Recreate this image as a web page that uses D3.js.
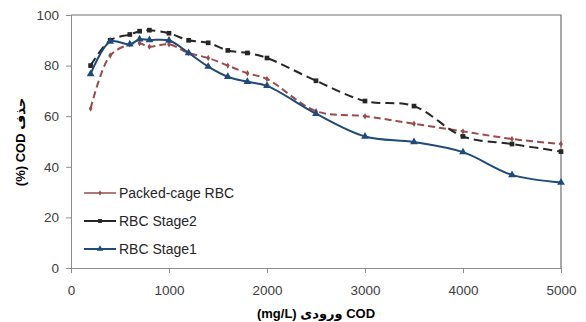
<!DOCTYPE html>
<html>
<head>
<meta charset="utf-8">
<script src="https://cdn.jsdelivr.net/npm/d3@7"></script>
<style>
  body { margin: 0; background: #fff; }
  text { font-family: "Liberation Sans", "DejaVu Sans", sans-serif; }
</style>
</head>
<body>
<svg id="chart"></svg>
<script>
// influent COD (mg/L)
const codIn = [200, 400, 600, 700, 800, 1000, 1200, 1400, 1600, 1800, 2000, 2500, 3000, 3500, 4000, 4500, 5000]

// removal %
const packedCage = [63, 84, 88.4, 88.8, 87.5, 88.4, 85, 83, 80, 77, 74.7, 62, 60, 57, 54, 51, 49]
const stage2 = [80, 90, 92.3, 93.6, 94, 92.8, 90, 89, 86, 85, 83, 74, 66, 64, 52, 49, 46]
const stage1 = [76.7, 89.5, 88.4, 90.4, 90.1, 89.9, 85, 79.6, 75.6, 73.6, 72, 61, 52, 49.8, 45.8, 36.8, 33.8]

const xTicks = [0, 1000, 2000, 3000, 4000, 5000]
const yTicks = [0, 20, 40, 60, 80, 100]

const seriesNames = ['Packed-cage RBC', 'RBC Stage2', 'RBC Stage1']

let width = 586,
height = 322

let svg = d3.select('#chart')
.attr('width', width)
.attr('height', height)

let x = d3.scaleLinear().domain([0, 5000]).range([71, 561])
let y = d3.scaleLinear().domain([0, 100]).range([268, 15])

// plot border (top + right)
svg.append('path')
.attr('d', `M${x(0)},${y(100)}H${x(5000)}V${y(0)}`)
.attr('fill', 'none')
.attr('stroke', '#707070')
.attr('stroke-width', 1.2)

// y axis
let yAxis = svg.append('g')
.attr('transform', `translate(${x(0)},0)`)
.call(d3.axisLeft(y).tickValues(yTicks).tickSize(5).tickPadding(7).tickFormat(d3.format('d')))
yAxis.select('.domain').attr('stroke', '#8c8c8c')
yAxis.selectAll('line').attr('stroke', '#8c8c8c')
yAxis.selectAll('text').attr('font-size', 13.5).attr('fill', '#404040')
.attr('font-family', '"Liberation Sans", sans-serif')

// x axis
let xAxis = svg.append('g')
.attr('transform', `translate(0,${y(0)})`)
.call(d3.axisBottom(x).tickValues(xTicks).tickSize(5).tickPadding(12).tickFormat(d3.format('d')))
xAxis.select('.domain').attr('stroke', '#8c8c8c')
xAxis.selectAll('line').attr('stroke', '#8c8c8c')
xAxis.selectAll('text').attr('font-size', 13.5).attr('fill', '#404040')
.attr('font-family', '"Liberation Sans", sans-serif')

// axis titles
svg.append('text')
.attr('x', 316).attr('y', 318)
.attr('text-anchor', 'middle')
.attr('font-size', 13).attr('font-weight', 'bold')
.text('(mg/L) ورودی COD')

svg.append('text')
.attr('transform', 'translate(25,142) rotate(-90)')
.attr('text-anchor', 'middle')
.attr('font-size', 13).attr('font-weight', 'bold')
.text('(%) COD حذف')

let styles = [
    {data: packedCage, color: '#9c4a4a', dash: '7,4', marker: 'diamond', width: 2},
    {data: stage2, color: '#262626', dash: '9,5', marker: 'square', width: 2},
    {data: stage1, color: '#1f4a7c', dash: null, marker: 'triangle', width: 2}
]

let symbolOf = m => m === 'square' ? d3.symbolSquare : m === 'triangle' ? d3.symbolTriangle : d3.symbolDiamond
let sizeOf = m => m === 'square' ? 22 : m === 'triangle' ? 26 : 12

let line = d3.line()
.x((d, i) => x(codIn[i]))
.y(d => y(d))
.curve(d3.curveCatmullRom.alpha(0.5))

styles.forEach(s => {
    svg.append('path')
    .datum(s.data)
    .attr('d', line)
    .attr('fill', 'none')
    .attr('stroke', s.color)
    .attr('stroke-width', s.width)
    .attr('stroke-dasharray', s.dash)

    svg.selectAll(null)
    .data(s.data)
    .enter().append('path')
    .attr('transform', (d, i) => `translate(${x(codIn[i])},${y(d)})`)
    .attr('d', d3.symbol().type(symbolOf(s.marker)).size(sizeOf(s.marker)))
    .attr('fill', s.color)
})

// legend
let legend = svg.append('g')
styles.forEach((s, i) => {
    let ly = 193 + i * 28
    legend.append('line')
    .attr('x1', 84).attr('x2', 116)
    .attr('y1', ly).attr('y2', ly)
    .attr('stroke', i === 0 ? '#b07a7a' : s.color)
    .attr('stroke-width', 2)
    legend.append('path')
    .attr('transform', `translate(100,${ly})`)
    .attr('d', d3.symbol().type(symbolOf(s.marker)).size(sizeOf(s.marker) * 0.7))
    .attr('fill', s.color)
    legend.append('text')
    .attr('x', 119).attr('y', ly + 5)
    .attr('font-size', 14).attr('fill', '#262626')
    .text(seriesNames[i])
})
</script>
</body>
</html>
